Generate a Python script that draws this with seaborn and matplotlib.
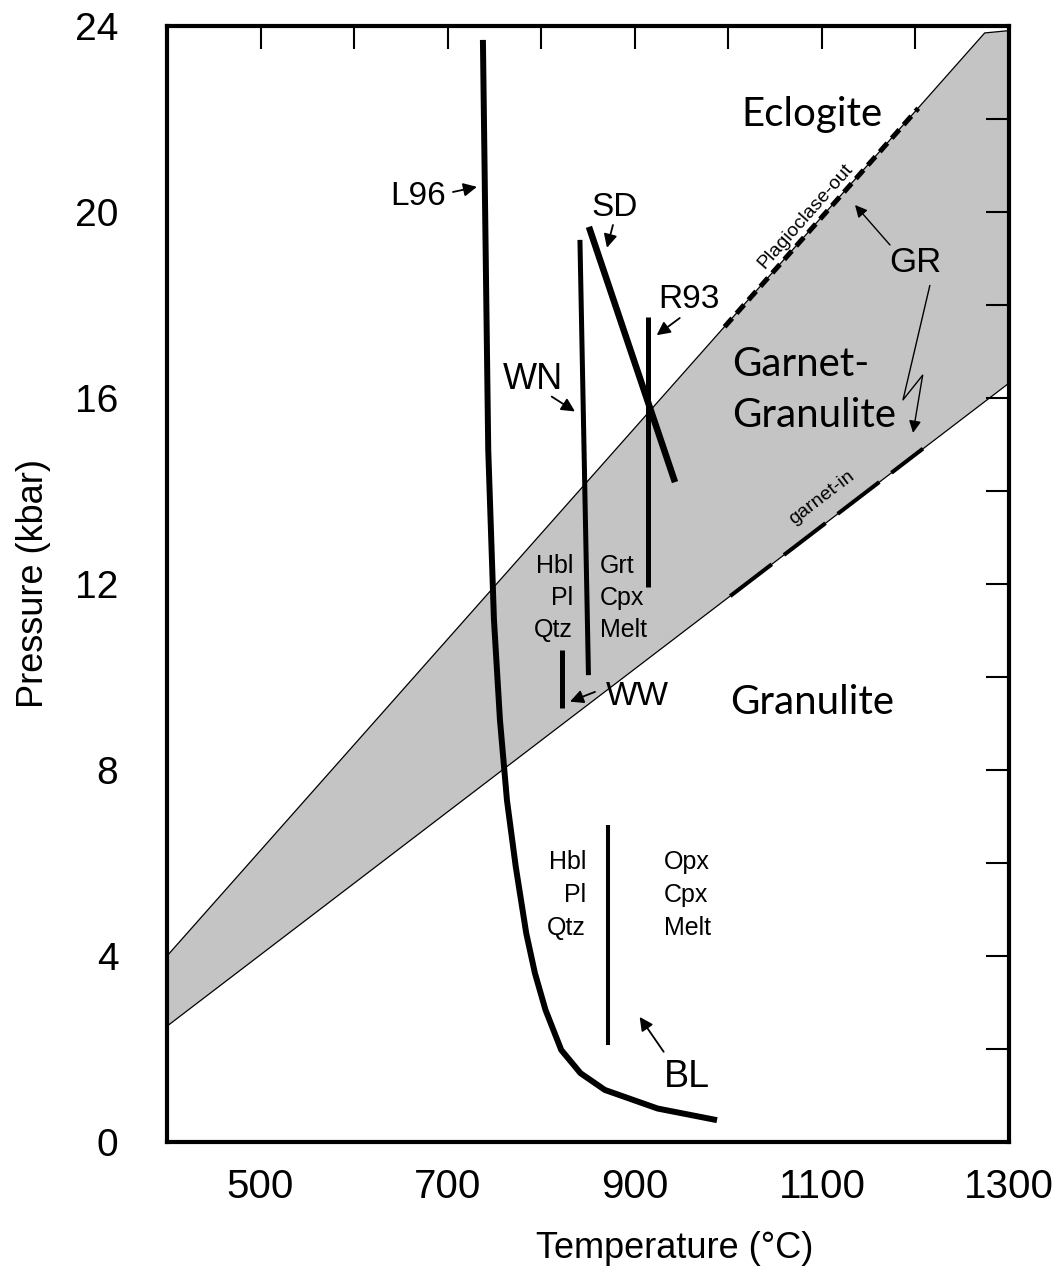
import numpy as np
import pandas as pd
import matplotlib
matplotlib.use("Agg")
import matplotlib.pyplot as plt
import seaborn as sns

# ---- stability field boundaries (T in degC, P in kbar) ----
band_upper_T = [400, 1274, 1300]
band_upper_P = [4.0, 23.85, 23.9]
band_lower_T = [400, 1300]
band_lower_P = [2.49, 16.32]

plag_out_T = [996, 1203]
plag_out_P = [17.53, 22.23]
garnet_in_T = [1002, 1208]
garnet_in_P = [11.74, 14.91]

# ---- experimental / model curves ----
l96_T = [737.7, 743.4, 749.5, 755.9, 763.4, 772.8, 784.0, 793.3, 804.6,
         821.4, 842.0, 868.0, 924.4, 987.9]
l96_P = [23.7, 14.88, 11.23, 9.08, 7.35, 5.92, 4.49, 3.63, 2.84,
         1.98, 1.48, 1.12, 0.72, 0.47]
wn_T = [841.4, 850.5]
wn_P = [19.4, 10.04]
sd_T = [851.0, 943.0]
sd_P = [19.68, 14.19]
r93_T = [914.1, 914.1]
r93_P = [17.75, 11.94]
ww_T = [821.9, 821.9]
ww_P = [10.58, 9.33]
bl_T = [871.9, 871.9]
bl_P = [6.82, 2.09]

# ---- axis ticks ----
x_ticks = list(range(400, 1301, 100))
x_labels = ["", "500", "", "700", "", "900", "", "1100", "", "1300"]
y_ticks = list(range(0, 25, 2))
y_labels = ["0", "", "4", "", "8", "", "12", "", "16", "", "20", "", "24"]

sns.set_theme(style="white")
plt.rcParams["font.family"] = ["Liberation Sans", "DejaVu Sans"]
plt.rcParams.update({"text.color": "black", "axes.labelcolor": "black",
                     "xtick.color": "black", "ytick.color": "black"})
ROUND = ["Lato", "DejaVu Sans"]

fig, ax = plt.subplots(figsize=(10.58, 12.73), dpi=100)
fig.subplots_adjust(left=0.1578, right=0.9537, bottom=0.1029, top=0.9796)
ax.set_axisbelow(False)

# shaded garnet-granulite field
poly_T = list(band_upper_T) + list(band_lower_T[::-1])
poly_P = list(band_upper_P) + list(band_lower_P[::-1])
ax.fill(poly_T, poly_P, facecolor="#c4c4c4", edgecolor="none", zorder=0.5)


def line(T, P, lw, **kw):
    df = pd.DataFrame({"T": T, "P": P})
    sns.lineplot(data=df, x="T", y="P", sort=False, estimator=None,
                 color="black", linewidth=lw, ax=ax, legend=False,
                 solid_capstyle="butt", **kw)
    return ax.lines[-1]


line(band_upper_T, band_upper_P, 0.9, zorder=2)
line(band_lower_T, band_lower_P, 0.9, zorder=2)

pl = line(plag_out_T, plag_out_P, 3.6, zorder=3)
pl.set_dashes((2.3, 1.3))
gi = line(garnet_in_T, garnet_in_P, 2.9, zorder=3)
gi.set_dashes((13.0, 3.8))

line(l96_T, l96_P, 4.3, zorder=4)
line(wn_T, wn_P, 3.6, zorder=4)
line(sd_T, sd_P, 4.7, zorder=4)
line(r93_T, r93_P, 3.6, zorder=4)
line(ww_T, ww_P, 3.6, zorder=4)
line(bl_T, bl_P, 2.9, zorder=4)

ax.set_xlim(400, 1300)
ax.set_ylim(0, 24)

# axes frame and ticks
for s in ax.spines.values():
    s.set_visible(True)
    s.set_color("black")
    s.set_linewidth(3.0)
    s.set_zorder(6)
ax.set_xticks(x_ticks)
ax.set_xticklabels(x_labels, fontsize=29)
ax.set_yticks(y_ticks)
ax.set_yticklabels(y_labels, fontsize=28)
ax.tick_params(axis="both", which="major", direction="in", top=True,
               right=True, length=16.5, width=1.5, color="black")
ax.tick_params(axis="x", pad=19)
ax.tick_params(axis="y", pad=35)

ax.set_xlabel("Temperature (°C)", fontsize=26)
ax.set_ylabel("Pressure (kbar)", fontsize=26)
ax.xaxis.label.set_va("center")
ax.yaxis.label.set_va("center")
ax.xaxis.set_label_coords(0.603, -0.095)
ax.yaxis.set_label_coords(-0.159, 0.5)

fig.canvas.draw()


def screen_angle(T, P):
    p0 = ax.transData.transform((T[0], P[0]))
    p1 = ax.transData.transform((T[-1], P[-1]))
    return np.degrees(np.arctan2(p1[1] - p0[1], p1[0] - p0[0]))


# field names
ax.text(1089, 22.09, "Eclogite", fontsize=29, family=ROUND, ha="center", va="center")
ax.text(1003.6, 16.71, "Garnet-", fontsize=29, family=ROUND, ha="left", va="center")
ax.text(1003.6, 15.63, "Granulite", fontsize=29, family=ROUND, ha="left", va="center")
ax.text(1001.8, 9.46, "Granulite", fontsize=29, family=ROUND, ha="left", va="center")

# reaction names along boundaries
ax.text(1082, 19.9, "Plagioclase-out", fontsize=14, ha="center", va="center",
        rotation=screen_angle(band_upper_T[:2], band_upper_P[:2]), rotation_mode="anchor")
ax.text(1100, 13.85, "garnet-in", fontsize=14, ha="center", va="center",
        rotation=screen_angle(band_lower_T, band_lower_P), rotation_mode="anchor")

# mineral assemblages
for txt, P in zip(["Hbl", "Pl", "Qtz"], [12.39, 11.70, 11.01]):
    ax.text(834, P, txt, fontsize=18, ha="right", va="center")
for txt, P in zip(["Grt", "Cpx", "Melt"], [12.39, 11.70, 11.01]):
    ax.text(862.8, P, txt, fontsize=18, ha="left", va="center")
for txt, P in zip(["Hbl", "Pl", "Qtz"], [6.02, 5.31, 4.60]):
    ax.text(847.8, P, txt, fontsize=18, ha="right", va="center")
for txt, P in zip(["Opx", "Cpx", "Melt"], [6.02, 5.31, 4.60]):
    ax.text(930.9, P, txt, fontsize=18, ha="left", va="center")

# curve labels with pointer arrows
arrow = dict(arrowstyle="-|>", color="black", lw=1.3, mutation_scale=20,
             shrinkA=0, shrinkB=0)
labels = [
    ("L96", (668.3, 20.34), (705.7, 20.43), (731.3, 20.54), 24),
    ("SD", (878.8, 20.09), (876.7, 19.72), (870.3, 19.23), 24),
    ("WN", (791.2, 16.39), (811.2, 16.03), (836.1, 15.71), 26),
    ("R93", (957.9, 18.11), (948.1, 17.72), (923.4, 17.35), 24),
    ("WW", (902.3, 9.59), (857.5, 9.68), (830.7, 9.47), 24),
    ("BL", (956.2, 1.40), (930.9, 1.94), (905.2, 2.69), 27),
]
for txt, pos, tail, head, fs in labels:
    ax.text(pos[0], pos[1], txt, fontsize=fs, ha="center", va="center")
    ax.annotate("", xy=head, xytext=tail, arrowprops=arrow)

# GR pointers
ax.text(1199.5, 18.92, "GR", fontsize=25, ha="center", va="center")
ax.annotate("", xy=(1135.4, 20.15), xytext=(1172.8, 19.29),
            arrowprops=dict(arrowstyle="-|>", color="black", lw=1.0,
                            mutation_scale=18, shrinkA=0, shrinkB=0))
line([1215.5, 1186.7, 1207.7], [18.43, 15.96, 16.49], 1.0, zorder=5)
ax.annotate("", xy=(1197.4, 15.25), xytext=(1207.7, 16.49),
            arrowprops=dict(arrowstyle="-|>", color="black", lw=1.0,
                            mutation_scale=18, shrinkA=0, shrinkB=0))

fig.savefig("out.png", dpi=100, facecolor="white")
